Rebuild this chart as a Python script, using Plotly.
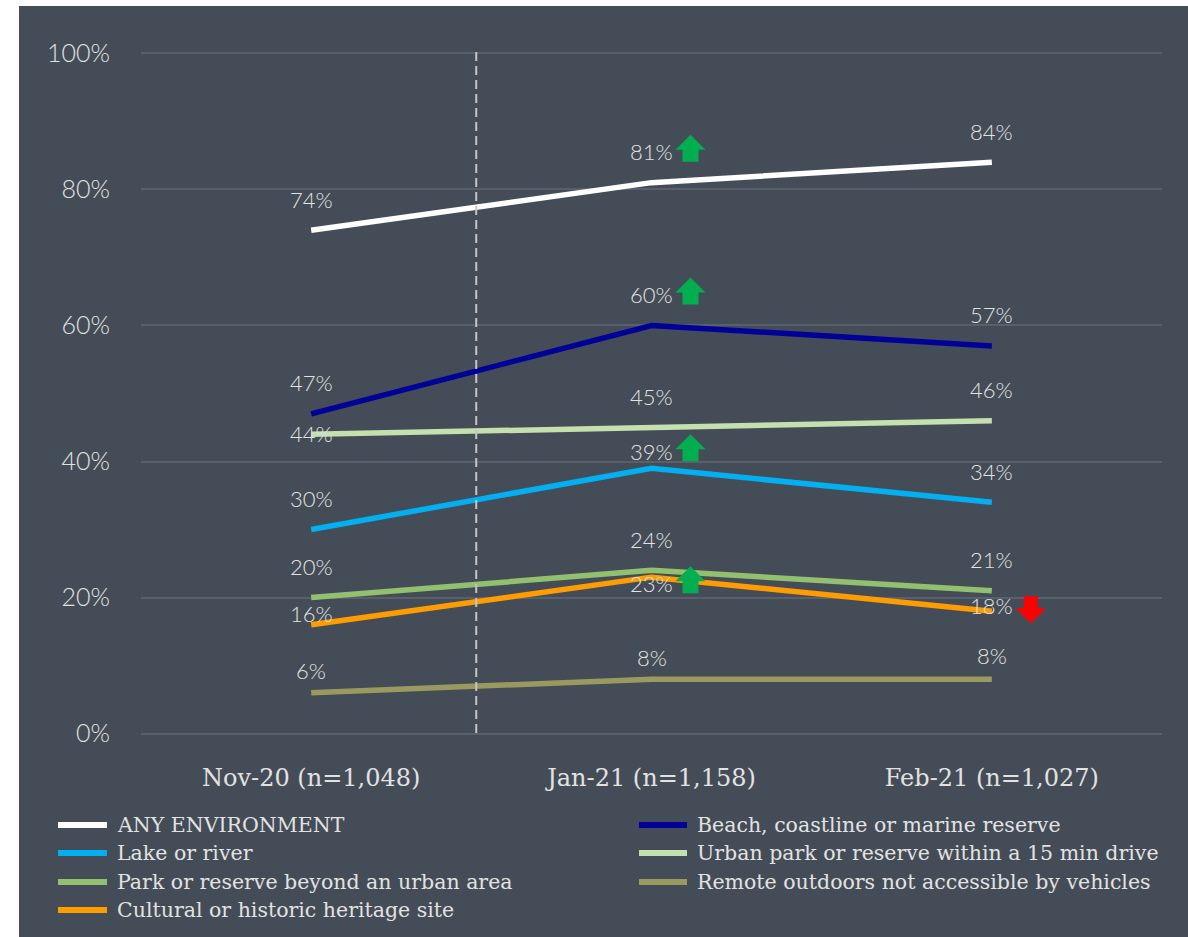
import plotly.graph_objects as go

# ---- data ---------------------------------------------------------------
periods = ["Nov-20 (n=1,048)", "Jan-21 (n=1,158)", "Feb-21 (n=1,027)"]

any_environment = [74, 81, 84]
beach_coast_marine = [47, 60, 57]
lake_river = [30, 39, 34]
urban_park_15min = [44, 45, 46]
park_beyond_urban = [20, 24, 21]
remote_outdoors = [6, 8, 8]
cultural_heritage = [16, 23, 18]

series_names = [
    "ANY ENVIRONMENT",
    "Beach, coastline or marine reserve",
    "Lake or river",
    "Urban park or reserve within a 15 min drive",
    "Park or reserve beyond an urban area",
    "Remote outdoors not accessible by vehicles",
    "Cultural or historic heritage site",
]
series_values = [
    any_environment,
    beach_coast_marine,
    lake_river,
    urban_park_15min,
    park_beyond_urban,
    remote_outdoors,
    cultural_heritage,
]

# significant changes vs previous wave: (series index, period index, direction)
significant = [(0, 1, "up"), (1, 1, "up"), (2, 1, "up"), (6, 1, "up"), (6, 2, "down")]

y_ticks = [0, 20, 40, 60, 80, 100]
y_tick_labels = ["0%", "20%", "40%", "60%", "80%", "100%"]

# ---- styling ------------------------------------------------------------
W, H = 1188, 937
PL, PR, PT, PB = 141, 1162, 50, 737  # plot area in pixels

colors = ["#ffffff", "#000099", "#00b0f0", "#c5dfae", "#93c06e", "#9a9a60", "#ff9c00"]
BG = "#444d57"
GRID = "#58616b"
TXT = "#e2e2e2"
NUM_FONT = "Lato"
SLAB_FONT = "DejaVu Serif"

# vertical pixel offset of each value label above its point
default_label_shift = 31
label_shift = {
    (3, 0): 1,
    (2, 1): 17,
    (6, 0): 11,
    (6, 1): -6,
    (6, 2): 6,
    (5, 0): 22,
    (5, 1): 22,
    (5, 2): 24,
}

# line draw order (bottom to top)
draw_order = [5, 4, 6, 2, 3, 1, 0]


def px_x(p):
    return (p - PL) / (PR - PL)


def px_y(p):
    return (PB - p) / (PB - PT)


fig = go.Figure()

for i in draw_order:
    fig.add_trace(go.Scatter(
        x=periods, y=series_values[i], name=series_names[i], mode="lines",
        line=dict(color=colors[i], width=5.5), showlegend=False, hoverinfo="skip",
    ))

annotations = []
shapes = []

# background panel
shapes.append(dict(type="rect", xref="paper", yref="paper", layer="below",
                   x0=px_x(19), x1=px_x(W + 2), y0=px_y(6), y1=px_y(H + 2),
                   fillcolor=BG, line=dict(width=0)))

# value labels
for i, vals in enumerate(series_values):
    for j, v in enumerate(vals):
        annotations.append(dict(
            x=periods[j], y=v, xref="x", yref="y", text=f"{v}%", showarrow=False,
            yshift=label_shift.get((i, j), default_label_shift),
            font=dict(family=NUM_FONT, size=22, color=TXT, weight=300),
            xanchor="center", yanchor="middle",
        ))

# significance arrows, drawn in pixels next to the value label
for i, j, d in significant:
    v = series_values[i][j]
    cy = label_shift.get((i, j), default_label_shift) + (3 if d == "up" else -4)
    dx = 39
    if d == "up":
        pts = [(-8, -13), (8, -13), (8, -1), (15, -1), (0, 14), (-15, -1), (-8, -1)]
        col = "#00b050"
    else:
        pts = [(-7, 13), (7, 13), (7, 1), (15, 1), (0, -14), (-15, 1), (-7, 1)]
        col = "#ff0000"
    path = "M " + " L ".join(f"{dx + a},{cy + b}" for a, b in pts) + " Z"
    shapes.append(dict(type="path", xref="x", yref="y",
                       xsizemode="pixel", ysizemode="pixel",
                       xanchor=periods[j], yanchor=v, path=path,
                       fillcolor=col, line=dict(width=0)))

# dashed separator between the first and second waves
shapes.append(dict(type="line", xref="x", yref="paper", x0=0.485, x1=0.485,
                   y0=px_y(733), y1=1.0, line=dict(color="#c4c4c4", width=2, dash="9px,5px")))

# legend (two columns, row-major)
legend_rows = [825, 853, 882, 910]
legend_cols = [(55, 110), (636, 690)]
for k, name in enumerate(series_names):
    row, col = divmod(k, 2)
    x0, x1 = legend_cols[col]
    yy = legend_rows[row]
    shapes.append(dict(type="line", xref="paper", yref="paper",
                       x0=px_x(x0 + 3), x1=px_x(x1 - 3), y0=px_y(yy), y1=px_y(yy),
                       line=dict(color=colors[k], width=6)))
    annotations.append(dict(
        x=px_x(x1 + 5), y=px_y(yy), xref="paper", yref="paper", text=name,
        showarrow=False, xanchor="left", yanchor="middle",
        font=dict(family=SLAB_FONT, size=20.5, color=TXT),
    ))

fig.update_layout(
    width=W, height=H,
    margin=dict(l=PL, r=W - PR, t=PT, b=H - PB, pad=0),
    paper_bgcolor="#ffffff", plot_bgcolor="rgba(0,0,0,0)",
    shapes=shapes, annotations=annotations, showlegend=False,
    xaxis=dict(type="category", range=[-0.5, 2.5], showgrid=False, zeroline=False,
               showline=False, ticks="", ticklabelstandoff=24,
               tickfont=dict(family=SLAB_FONT, size=24, color=TXT)),
    yaxis=dict(range=[-0.5, 100.5], tickvals=y_ticks, ticktext=y_tick_labels,
               showgrid=True, gridcolor=GRID, gridwidth=2, zeroline=False,
               showline=False, ticks="", ticklabelstandoff=30,
               tickfont=dict(family=NUM_FONT, size=25, color=TXT, weight=300)),
)

fig.write_html("out.html")
